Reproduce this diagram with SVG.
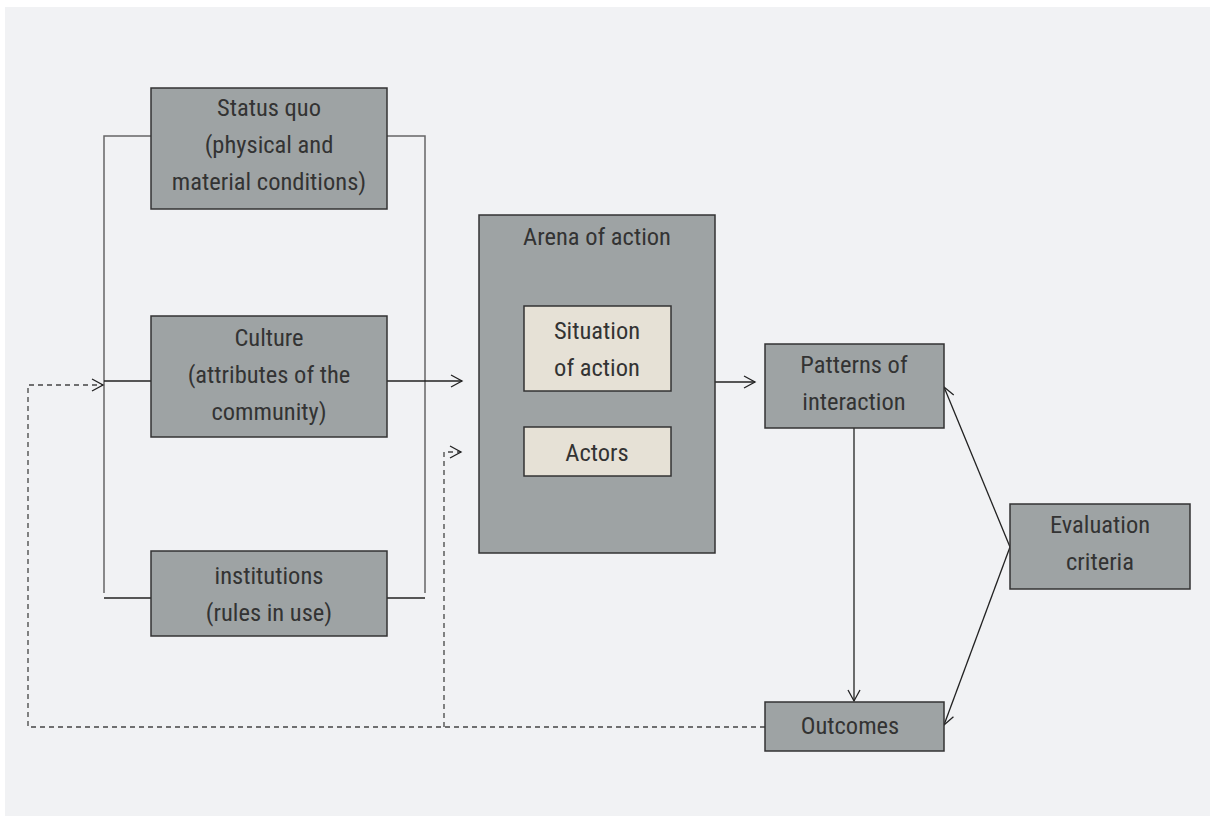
<svg xmlns="http://www.w3.org/2000/svg" width="1210" height="816" viewBox="0 0 1210 816">
<style>
.box{fill:#9ea3a4;stroke:#333;stroke-width:1.5}
.inner{fill:#e6e1d6;stroke:#333;stroke-width:1.5}
.t{font-family:"Roboto Condensed","Liberation Sans Narrow","Liberation Sans",sans-serif;font-size:24.5px;font-weight:400;fill:#333;text-anchor:middle}
.ln{fill:none;stroke:#222;stroke-width:1.3}
.br{fill:none;stroke:#666;stroke-width:1.5}
.ds{fill:none;stroke:#444;stroke-width:1.3;stroke-dasharray:5 4}
</style>
<defs>
<marker id="ah" markerUnits="userSpaceOnUse" markerWidth="16" markerHeight="16" refX="12" refY="7" orient="auto">
<path d="M1,1 L12,7 L1,13" fill="none" stroke="#222" stroke-width="1.3"/>
</marker>
</defs>
<rect x="0" y="0" width="1210" height="816" fill="#ffffff"/>
<rect x="5" y="7" width="1205" height="809" fill="#f1f2f4"/>
<g id="connectors">
<path class="br" d="M151,136 H104 V593"/>
<path class="br" d="M387,136 H425 V593"/>
<path class="ln" d="M104,598 H151"/>
<path class="ln" d="M387,598 H425"/>
<path class="ln" d="M104,381 H151"/>
<path class="ln" d="M387,381 H462" marker-end="url(#ah)"/>
<path class="ln" d="M715,382 H755" marker-end="url(#ah)"/>
<path class="ln" d="M854,428 V701" marker-end="url(#ah)"/>
<path class="ln" d="M1010,547 L944,387" marker-end="url(#ah)"/>
<path class="ln" d="M1010,547 L944,725" marker-end="url(#ah)"/>
<path class="ds" d="M765,727 H28 V385 H103" marker-end="url(#ah)"/>
<path class="ds" d="M444,727 V452 H461" marker-end="url(#ah)"/>
</g>
<g id="status-quo">
<rect class="box" x="151" y="88" width="236" height="121"/>
<text class="t" x="269" y="116">Status quo</text>
<text class="t" x="269" y="153">(physical and</text>
<text class="t" x="269" y="190">material conditions)</text>
</g>
<g id="culture">
<rect class="box" x="151" y="316" width="236" height="121"/>
<text class="t" x="269" y="346">Culture</text>
<text class="t" x="269" y="383">(attributes of the</text>
<text class="t" x="269" y="420">community)</text>
</g>
<g id="institutions">
<rect class="box" x="151" y="551" width="236" height="85"/>
<text class="t" x="269" y="584">institutions</text>
<text class="t" x="269" y="621">(rules in use)</text>
</g>
<g id="arena">
<rect class="box" x="479" y="215" width="236" height="338"/>
<text class="t" x="597" y="245">Arena of action</text>
</g>
<g id="situation">
<rect class="inner" x="524" y="306" width="147" height="85"/>
<text class="t" x="597" y="339">Situation</text>
<text class="t" x="597" y="376">of action</text>
</g>
<g id="actors">
<rect class="inner" x="524" y="427" width="147" height="49"/>
<text class="t" x="597" y="461">Actors</text>
</g>
<g id="patterns">
<rect class="box" x="765" y="344" width="179" height="84"/>
<text class="t" x="854" y="373">Patterns of</text>
<text class="t" x="854" y="410">interaction</text>
</g>
<g id="outcomes">
<rect class="box" x="765" y="702" width="179" height="49"/>
<text class="t" x="850" y="734">Outcomes</text>
</g>
<g id="evaluation">
<rect class="box" x="1010" y="504" width="180" height="85"/>
<text class="t" x="1100" y="533">Evaluation</text>
<text class="t" x="1100" y="570">criteria</text>
</g>
</svg>
